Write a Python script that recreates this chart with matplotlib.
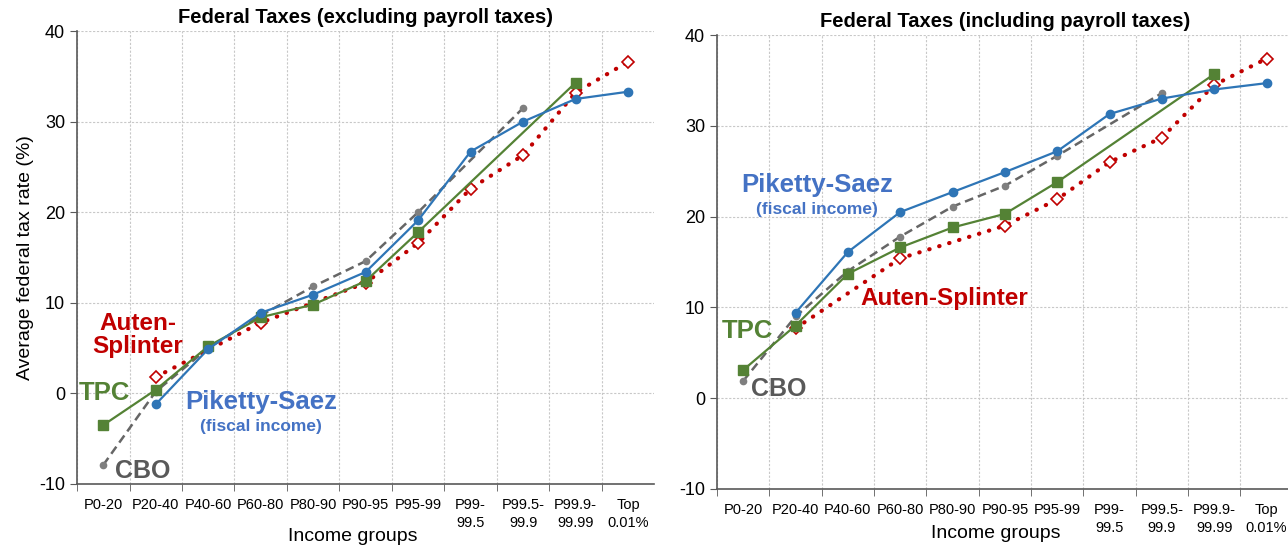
import matplotlib.pyplot as plt
import numpy as np

groups = ['P0-20', 'P20-40', 'P40-60', 'P60-80', 'P80-90', 'P90-95', 'P95-99',
          'P99-\n99.5', 'P99.5-\n99.9', 'P99.9-\n99.99', 'Top\n0.01%']

# excluding payroll taxes
ps_excl = [None, -1.2, 4.9, 8.9, 10.9, 13.4, 19.1, 26.7, 30.0, 32.5, 33.3]
tpc_excl = [-3.5, 0.4, 5.2, 8.4, 9.8, 12.4, 17.8, None, None, 34.3, None]
cbo_excl = [-7.9, 0.2, 5.0, 8.6, 11.8, 14.6, 20.0, None, 31.5, None, None]
as_excl = [None, 1.8, None, 7.8, None, 12.2, 16.6, 22.6, 26.3, 33.2, 36.6]

# including payroll taxes
ps_incl = [None, 9.4, 16.1, 20.5, 22.7, 24.9, 27.2, 31.3, 33.0, 34.0, 34.7]
tpc_incl = [3.1, 8.0, 13.7, 16.6, 18.8, 20.3, 23.8, None, None, 35.7, None]
cbo_incl = [1.9, 9.0, 14.0, 17.8, 21.1, 23.4, 26.7, None, 33.6, None, None]
as_incl = [None, 7.7, None, 15.4, None, 19.0, 21.9, 26.0, 28.7, 34.5, 37.4]

BLUE = '#2E75B6'
BLUE_T = '#4472C4'
GREEN = '#548235'
RED = '#C00000'
GRAY = '#7F7F7F'
GRAY_T = '#595959'

plt.rcParams['font.family'] = ['Liberation Sans', 'DejaVu Sans']
plt.rcParams['axes.unicode_minus'] = False


def pts(vals):
    x = [i for i, v in enumerate(vals) if v is not None]
    y = [v for v in vals if v is not None]
    return x, y


def draw(ax, ps, tpc, cbo, aus, title):
    x, y = pts(cbo)
    ax.plot(x, y, color='#666666', ls=(0, (3.5, 2)), lw=1.8, marker='o', ms=4.5,
            mfc=GRAY, mec=GRAY, zorder=3)
    x, y = pts(aus)
    ax.plot(x, y, color=RED, ls=(0, (0.1, 2.4)), lw=3, dash_capstyle='round',
            marker='D', ms=6.5, mfc='white', mec=RED, mew=1.2, zorder=4)
    x, y = pts(tpc)
    ax.plot(x, y, color=GREEN, lw=1.6, marker='s', ms=7, zorder=5)
    x, y = pts(ps)
    ax.plot(x, y, color=BLUE, lw=1.6, marker='o', ms=6, zorder=6)

    ax.set_xlim(-0.5, len(groups) - 0.5)
    ax.set_ylim(-10, 40)
    ax.set_yticks([-10, 0, 10, 20, 30, 40])
    ax.set_xticks(np.arange(len(groups)))
    ax.set_xticklabels(groups, fontsize=10.5, linespacing=1.35)
    ax.set_xticks(np.arange(len(groups)) - 0.5, minor=True)
    ax.tick_params(axis='x', which='major', length=0, pad=10)
    ax.tick_params(axis='x', which='minor', length=5, color='#595959')
    ax.tick_params(axis='y', labelsize=13, length=5, color='#595959')
    ax.grid(True, which='minor', axis='x', ls=(0, (2, 1.5)), color='#C8C8C8', lw=0.8)
    ax.grid(True, which='major', axis='y', ls=(0, (2, 1.5)), color='#C8C8C8', lw=0.8)
    for s in ['top', 'right']:
        ax.spines[s].set_visible(False)
    for s in ['left', 'bottom']:
        ax.spines[s].set_color('#595959')
        ax.spines[s].set_linewidth(1.2)
    ax.set_xlabel('Income groups', fontsize=14)
    ax.set_title(title, fontsize=14.5, fontweight='bold', pad=6)


fig = plt.figure(figsize=(12.88, 5.48), dpi=100)
ax1 = fig.add_axes([0.0598, 0.1168, 0.4482, 0.8266])
ax2 = fig.add_axes([0.5567, 0.1077, 0.4470, 0.8284])

draw(ax1, ps_excl, tpc_excl, cbo_excl, as_excl, 'Federal Taxes (excluding payroll taxes)')
draw(ax2, ps_incl, tpc_incl, cbo_incl, as_incl, 'Federal Taxes (including payroll taxes)')
ax1.set_ylabel('Average federal tax rate (%)', fontsize=14, labelpad=4)
ax1.xaxis.set_label_coords(0.477, -0.097)
ax2.xaxis.set_label_coords(0.484, -0.079)

lab = dict(fontweight='bold', ha='center', va='center')
ax1.text(0.66, 6.4, 'Auten-\nSplinter', color=RED, fontsize=17.5, linespacing=1.0, **lab)
ax1.text(0.03, 0.0, 'TPC', color=GREEN, fontsize=18.5, **lab)
ax1.text(3.0, -1.0, 'Piketty-Saez', color=BLUE_T, fontsize=18.5, **lab)
ax1.text(3.0, -3.6, '(fiscal income)', color=BLUE_T, fontsize=12.5, **lab)
ax1.text(0.75, -8.6, 'CBO', color=GRAY_T, fontsize=18, **lab)

ax2.text(1.41, 23.5, 'Piketty-Saez', color=BLUE_T, fontsize=18.5, **lab)
ax2.text(1.41, 20.8, '(fiscal income)', color=BLUE_T, fontsize=12.5, **lab)
ax2.text(3.85, 11.0, 'Auten-Splinter', color=RED, fontsize=17.5, **lab)
ax2.text(0.09, 7.4, 'TPC', color=GREEN, fontsize=18.5, **lab)
ax2.text(0.68, 1.0, 'CBO', color=GRAY_T, fontsize=18, **lab)

fig.savefig('out.png', dpi=100)
